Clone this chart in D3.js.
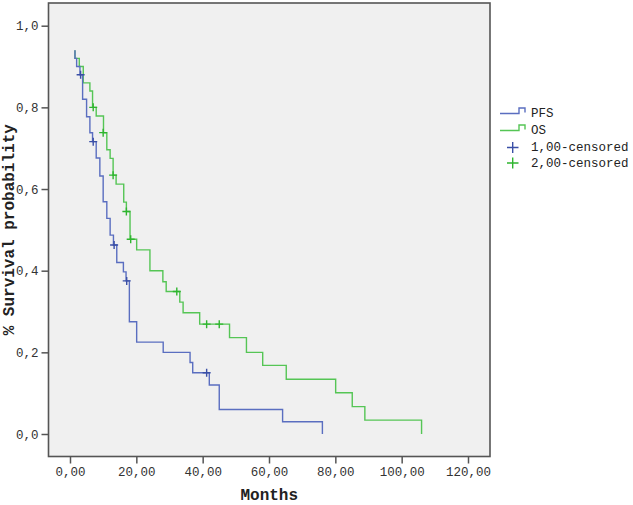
<!DOCTYPE html>
<html>
<head>
<meta charset="utf-8">
<script src="https://cdn.jsdelivr.net/npm/d3@7/dist/d3.min.js"></script>
<style>
  html, body { margin: 0; padding: 0; background: #fff; }
  svg { display: block; }
</style>
</head>
<body>
<svg id="chart"></svg>
<script>
// Kaplan-Meier curves, values
const pfsTimes = [1.5, 1.5, 2.0, 3.0, 3.8, 5.0, 6.0, 6.8, 7.9, 9.0, 10.0, 11.1, 12.1, 13.1, 14.1, 16.1, 16.9, 17.9, 20.1, 28.1, 36.2, 37.0, 42.0, 45.0, 64.1, 76.1];
const pfsSurv  = [0.94, 0.92, 0.90, 0.88, 0.82, 0.777, 0.738, 0.716, 0.676, 0.632, 0.569, 0.528, 0.487, 0.463, 0.420, 0.397, 0.375, 0.275, 0.225, 0.200, 0.175, 0.150, 0.120, 0.060, 0.030, 0.0];
const pfsCensorTimes = [3.2, 7.0, 13.3, 17.1, 41.2];
const pfsCensorSurv  = [0.88, 0.716, 0.463, 0.375, 0.150];

const osTimes = [1.5, 1.5, 2.8, 4.0, 6.0, 6.8, 7.9, 10.1, 11.1, 12.1, 13.0, 13.9, 16.2, 17.0, 18.1, 20.1, 24.1, 28.0, 29.0, 33.1, 34.1, 39.1, 48.1, 53.2, 58.1, 65.2, 80.1, 85.1, 88.9, 106.0];
const osSurv  = [0.94, 0.92, 0.90, 0.86, 0.84, 0.80, 0.779, 0.738, 0.696, 0.675, 0.634, 0.612, 0.568, 0.545, 0.477, 0.451, 0.400, 0.373, 0.349, 0.323, 0.297, 0.269, 0.236, 0.200, 0.168, 0.134, 0.101, 0.067, 0.034, 0.0];
const osCensorTimes = [7.0, 10.0, 13.0, 17.0, 18.3, 32.2, 41.2, 45.0];
const osCensorSurv  = [0.80, 0.738, 0.634, 0.545, 0.477, 0.349, 0.269, 0.269];

const xTicks = [0, 20, 40, 60, 80, 100, 120];
const xTickLabels = ['0,00', '20,00', '40,00', '60,00', '80,00', '100,00', '120,00'];
const yTicks = [0, 0.2, 0.4, 0.6, 0.8, 1.0];
const yTickLabels = ['0,0', '0,2', '0,4', '0,6', '0,8', '1,0'];

const legendLabels = ['PFS', 'OS', '1,00-censored', '2,00-censored'];

const width = 633, height = 505;
const FONT = '"Liberation Mono", "Courier New", monospace';
const BLUE = '#5a6ec0', GREEN = '#55c555';
const BLUE_MARK = '#3a4fa6', GREEN_MARK = '#2fb52f';

const svg = d3.select('#chart').attr('width', width).attr('height', height);

// frame of the plot area
const frame = { left: 48.5, right: 490, top: 3, bottom: 456.5 };

const x = d3.scaleLinear().domain([0, 120]).range([70, 468]);
const y = d3.scaleLinear().domain([0, 1]).range([434, 25.7]);

svg.append('rect')
  .attr('x', frame.left).attr('y', frame.top)
  .attr('width', frame.right - frame.left).attr('height', frame.bottom - frame.top)
  .attr('fill', '#f0f0f0').attr('stroke', '#555').attr('stroke-width', 1.6);

// Axes
const yAxis = d3.axisLeft(y).tickValues(yTicks)
  .tickFormat((d, i) => yTickLabels[i]).tickSizeInner(7).tickSizeOuter(0).tickPadding(3);
const gy = svg.append('g').attr('transform', `translate(${frame.left},0)`).call(yAxis);

const xAxis = d3.axisBottom(x).tickValues(xTicks)
  .tickFormat((d, i) => xTickLabels[i]).tickSizeInner(7).tickSizeOuter(0).tickPadding(4);
const gx = svg.append('g').attr('transform', `translate(0,${frame.bottom})`).call(xAxis);

[gx, gy].forEach(g => {
  g.select('.domain').remove();
  g.selectAll('.tick line').attr('stroke', '#555').attr('stroke-width', 1.5);
  g.selectAll('.tick text').attr('fill', '#333').attr('font-family', FONT).attr('font-size', '12.5px');
});

// Axis titles
svg.append('text')
  .attr('x', (frame.left + frame.right) / 2).attr('y', 500)
  .attr('text-anchor', 'middle').attr('font-family', FONT).attr('font-weight', 'bold')
  .attr('font-size', '16px').attr('fill', '#222')
  .text('Months');

svg.append('text')
  .attr('transform', `translate(14,${(frame.top + frame.bottom) / 2}) rotate(-90)`)
  .attr('text-anchor', 'middle').attr('font-family', FONT).attr('font-weight', 'bold')
  .attr('font-size', '16px').attr('fill', '#222')
  .text('% Survival probability');

// Curves
const line = d3.line().x(d => x(d[0])).y(d => y(d[1])).curve(d3.curveStepAfter);
const plotG = svg.append('g');

function drawCurve(times, surv, color) {
  plotG.append('path')
    .datum(times.map((t, i) => [t, surv[i]]))
    .attr('d', line)
    .attr('fill', 'none').attr('stroke', color).attr('stroke-width', 1.4);
}

function drawCensors(times, surv, color, size) {
  times.forEach((t, i) => {
    const cx = x(t), cy = y(surv[i]);
    plotG.append('path')
      .attr('d', `M${cx - size / 2},${cy}H${cx + size / 2}M${cx},${cy - size / 2}V${cy + size / 2}`)
      .attr('stroke', color).attr('stroke-width', 1.4).attr('fill', 'none');
  });
}

drawCurve(osTimes, osSurv, GREEN);
drawCurve(pfsTimes, pfsSurv, BLUE);
drawCensors(osCensorTimes, osCensorSurv, GREEN_MARK, 8);
drawCensors(pfsCensorTimes, pfsCensorSurv, BLUE_MARK, 8);

// Legend
const legend = svg.append('g');
const legendRows = [
  { label: legendLabels[0], color: BLUE, type: 'line', y: 113.5 },
  { label: legendLabels[1], color: GREEN, type: 'line', y: 130.5 },
  { label: legendLabels[2], color: BLUE_MARK, type: 'mark', y: 147.5 },
  { label: legendLabels[3], color: GREEN_MARK, type: 'mark', y: 163 },
];
legendRows.forEach(r => {
  if (r.type === 'line') {
    legend.append('path')
      .attr('d', `M500,${r.y}H519V${r.y - 5.5}H525V${r.y - 1}`)
      .attr('fill', 'none').attr('stroke', r.color).attr('stroke-width', 1.4);
  } else {
    legend.append('path')
      .attr('d', `M507,${r.y}H518.5M512.7,${r.y - 5.5}V${r.y + 5.5}`)
      .attr('fill', 'none').attr('stroke', r.color).attr('stroke-width', 1.4);
  }
  legend.append('text')
    .attr('x', 531).attr('y', r.y + 3.5)
    .attr('font-family', FONT).attr('font-size', '12.5px').attr('fill', '#222')
    .text(r.label);
});
</script>
</body>
</html>
